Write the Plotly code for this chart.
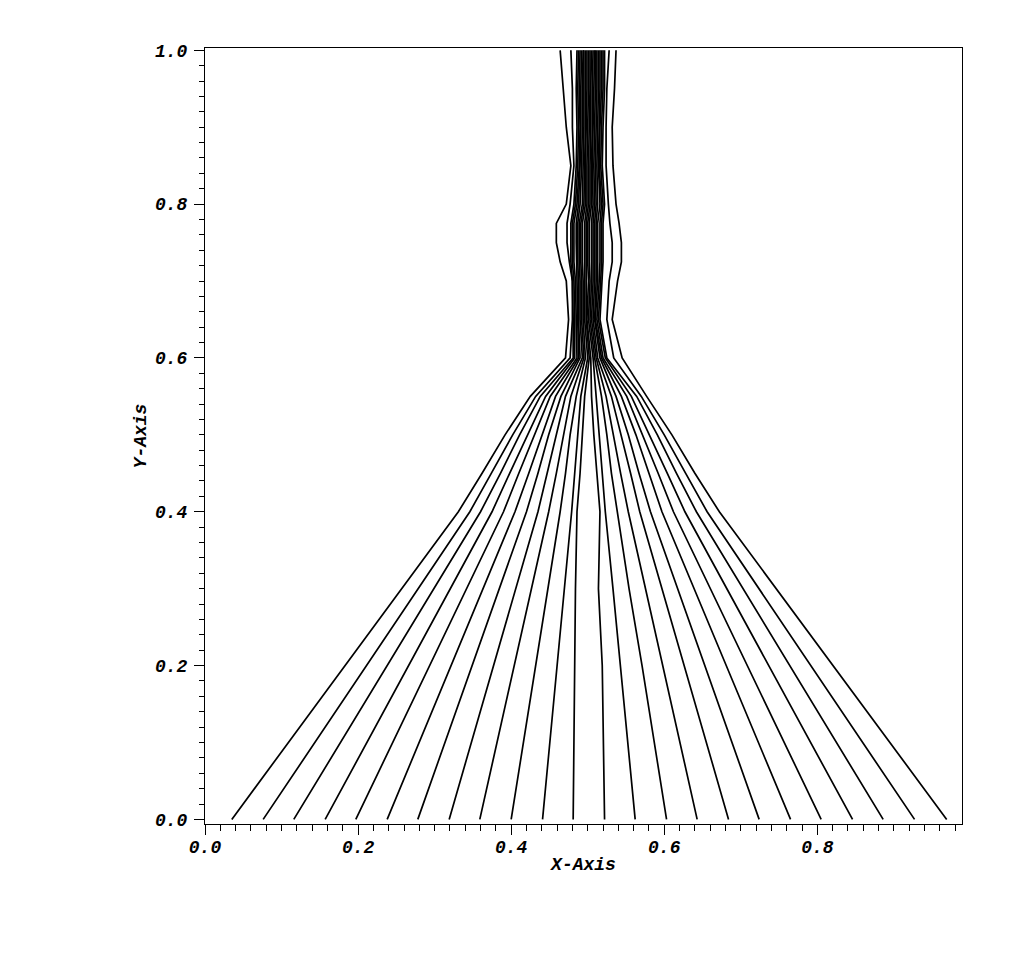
import plotly.graph_objects as go

Y_LEVELS = [0.0, 0.2, 0.3, 0.4, 0.45, 0.5, 0.55, 0.6, 0.65, 0.7,
            0.725, 0.75, 0.775, 0.8, 0.85, 0.9, 0.95, 1.0]

# x of each streamline at the levels above, left to right
STREAM_X = [
    [0.035, 0.183, 0.257, 0.331, 0.362, 0.392, 0.425, 0.471, 0.475, 0.472, 0.464, 0.459, 0.459, 0.472, 0.478, 0.472, 0.468, 0.464],
    [0.076, 0.211, 0.278, 0.346, 0.374, 0.402, 0.432, 0.477, 0.480, 0.480, 0.476, 0.473, 0.473, 0.477, 0.482, 0.480, 0.480, 0.478],
    [0.116, 0.238, 0.299, 0.360, 0.386, 0.411, 0.438, 0.481, 0.481, 0.480, 0.478, 0.478, 0.478, 0.482, 0.485, 0.486, 0.485, 0.486],
    [0.157, 0.266, 0.321, 0.375, 0.398, 0.421, 0.445, 0.483, 0.483, 0.482, 0.480, 0.480, 0.480, 0.484, 0.487, 0.488, 0.487, 0.488],
    [0.197, 0.294, 0.342, 0.390, 0.410, 0.430, 0.451, 0.486, 0.485, 0.484, 0.482, 0.482, 0.482, 0.486, 0.489, 0.490, 0.489, 0.490],
    [0.238, 0.322, 0.363, 0.405, 0.423, 0.440, 0.458, 0.488, 0.487, 0.486, 0.485, 0.485, 0.485, 0.488, 0.490, 0.491, 0.491, 0.492],
    [0.278, 0.349, 0.384, 0.420, 0.435, 0.449, 0.465, 0.490, 0.488, 0.488, 0.487, 0.487, 0.487, 0.490, 0.492, 0.493, 0.493, 0.494],
    [0.319, 0.377, 0.406, 0.435, 0.447, 0.459, 0.471, 0.493, 0.490, 0.490, 0.489, 0.489, 0.489, 0.493, 0.494, 0.495, 0.495, 0.495],
    [0.359, 0.404, 0.427, 0.449, 0.459, 0.468, 0.478, 0.495, 0.492, 0.492, 0.491, 0.491, 0.491, 0.495, 0.496, 0.497, 0.497, 0.497],
    [0.400, 0.432, 0.448, 0.464, 0.471, 0.477, 0.485, 0.497, 0.494, 0.494, 0.493, 0.493, 0.493, 0.497, 0.497, 0.498, 0.499, 0.499],
    [0.441, 0.460, 0.470, 0.479, 0.483, 0.487, 0.491, 0.500, 0.496, 0.496, 0.496, 0.496, 0.496, 0.499, 0.499, 0.500, 0.501, 0.501],
    [0.481, 0.483, 0.484, 0.486, 0.490, 0.493, 0.496, 0.502, 0.498, 0.498, 0.498, 0.498, 0.498, 0.501, 0.501, 0.502, 0.503, 0.503],
    [0.522, 0.519, 0.514, 0.516, 0.512, 0.508, 0.505, 0.504, 0.499, 0.501, 0.500, 0.500, 0.500, 0.503, 0.503, 0.504, 0.504, 0.505],
    [0.562, 0.543, 0.533, 0.523, 0.519, 0.515, 0.511, 0.507, 0.501, 0.503, 0.502, 0.502, 0.502, 0.505, 0.505, 0.506, 0.506, 0.507],
    [0.603, 0.571, 0.554, 0.538, 0.531, 0.525, 0.518, 0.509, 0.503, 0.505, 0.505, 0.505, 0.505, 0.507, 0.506, 0.507, 0.508, 0.509],
    [0.643, 0.598, 0.575, 0.553, 0.543, 0.534, 0.524, 0.511, 0.505, 0.507, 0.507, 0.507, 0.507, 0.509, 0.508, 0.509, 0.510, 0.510],
    [0.684, 0.626, 0.597, 0.568, 0.556, 0.544, 0.531, 0.513, 0.507, 0.509, 0.509, 0.509, 0.509, 0.511, 0.510, 0.511, 0.512, 0.512],
    [0.724, 0.653, 0.618, 0.582, 0.567, 0.553, 0.537, 0.516, 0.509, 0.511, 0.511, 0.511, 0.511, 0.513, 0.512, 0.513, 0.514, 0.514],
    [0.765, 0.681, 0.639, 0.597, 0.580, 0.563, 0.544, 0.518, 0.510, 0.513, 0.513, 0.513, 0.513, 0.516, 0.514, 0.515, 0.516, 0.516],
    [0.805, 0.708, 0.660, 0.612, 0.592, 0.572, 0.551, 0.520, 0.512, 0.515, 0.516, 0.516, 0.516, 0.518, 0.515, 0.516, 0.518, 0.518],
    [0.846, 0.736, 0.682, 0.627, 0.604, 0.581, 0.557, 0.523, 0.514, 0.517, 0.518, 0.518, 0.518, 0.520, 0.517, 0.518, 0.520, 0.520],
    [0.886, 0.764, 0.703, 0.642, 0.616, 0.591, 0.564, 0.525, 0.516, 0.519, 0.520, 0.520, 0.520, 0.522, 0.519, 0.520, 0.522, 0.522],
    [0.927, 0.792, 0.724, 0.656, 0.628, 0.600, 0.570, 0.534, 0.525, 0.528, 0.532, 0.532, 0.529, 0.527, 0.524, 0.524, 0.525, 0.528],
    [0.969, 0.820, 0.746, 0.672, 0.640, 0.610, 0.577, 0.545, 0.532, 0.539, 0.544, 0.544, 0.541, 0.537, 0.533, 0.532, 0.535, 0.537],
]

X_TICKS = [0.0, 0.2, 0.4, 0.6, 0.8]
Y_TICKS = [0.0, 0.2, 0.4, 0.6, 0.8, 1.0]

FONT = "Liberation Mono, Courier New, monospace"

fig = go.Figure()
for xs in STREAM_X:
    fig.add_trace(go.Scatter(
        x=xs, y=Y_LEVELS, mode="lines",
        line=dict(color="black", width=1.7),
        hoverinfo="skip", showlegend=False,
    ))

axis_font = dict(family=FONT, size=18, color="black", weight="bold", style="italic")

# page body adds an 8px offset, margins are set against that
fig.update_layout(
    width=1024, height=970,
    paper_bgcolor="white", plot_bgcolor="white",
    margin=dict(l=197, r=70, t=40, b=154, autoexpand=False),
    showlegend=False,
)
fig.update_xaxes(
    range=[0.0, 0.989],
    automargin=False,
    tickvals=X_TICKS, ticktext=[f"{v:.1f}" for v in X_TICKS],
    ticks="outside", ticklen=10, tickwidth=1, tickcolor="black",
    minor=dict(dtick=0.02, tick0=0, ticks="outside", ticklen=6, tickcolor="black"),
    showline=True, linecolor="black", linewidth=1, mirror=True,
    showgrid=False, zeroline=False,
    tickfont=axis_font, ticklabelstandoff=-4,
    title=dict(text="X-Axis", font=axis_font, standoff=0),
)
fig.update_yaxes(
    range=[-0.006, 1.003],
    automargin=False,
    tickvals=Y_TICKS, ticktext=[f"{v:.1f}" for v in Y_TICKS],
    ticks="outside", ticklen=10, tickwidth=1, tickcolor="black",
    minor=dict(dtick=0.02, tick0=0, ticks="outside", ticklen=5, tickcolor="black"),
    showline=True, linecolor="black", linewidth=1, mirror=True,
    showgrid=False, zeroline=False,
    tickfont=axis_font, ticklabelstandoff=3,
    title=dict(text="Y-Axis", font=axis_font, standoff=3),
)

fig.write_html("out.html")
